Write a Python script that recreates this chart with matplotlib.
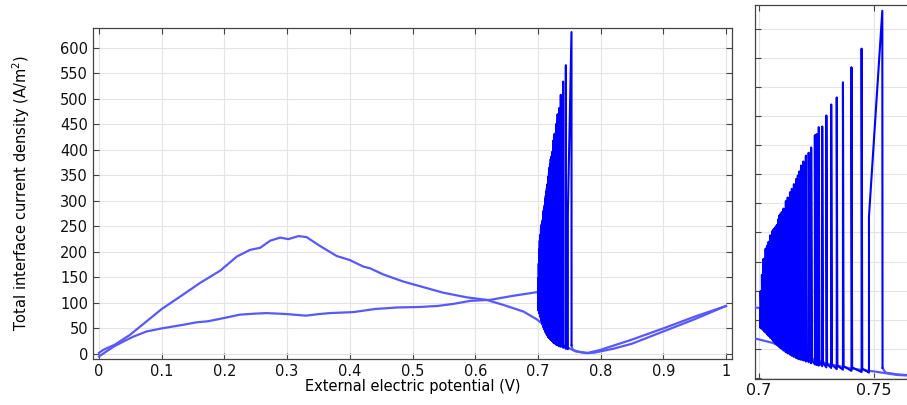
import matplotlib
matplotlib.use("Agg")
import matplotlib.pyplot as plt

# forward sweep, 0 V up to the onset of oscillations
fwd_v = [0.0, 0.012, 0.023, 0.04, 0.055, 0.076, 0.1, 0.134, 0.156, 0.174, 0.198, 0.225,
         0.25, 0.267, 0.285, 0.30, 0.33, 0.35, 0.368, 0.406, 0.44, 0.475, 0.512, 0.54,
         0.565, 0.592, 0.624, 0.661, 0.698, 0.7007]
fwd_i = [-5, 5, 14, 25, 34, 44, 50, 57, 62, 64, 70, 77,
         79, 80, 79, 78, 75, 78, 80, 82, 88, 91, 92, 94,
         98, 104, 106, 114, 121, 120]

# current oscillations: spike potential, peak and floor after the drop
spike_v = [0.7007, 0.7013, 0.7019, 0.7023, 0.7029, 0.7035, 0.7042, 0.7049, 0.7057,
           0.7063, 0.7068, 0.7073, 0.7078, 0.7083, 0.7088, 0.7094, 0.7099, 0.7107,
           0.7117, 0.7125, 0.7135, 0.7143, 0.7152, 0.7162, 0.7169, 0.7176, 0.7183,
           0.7193, 0.7204, 0.7216, 0.7227, 0.7243, 0.7251, 0.7260, 0.7275, 0.7293,
           0.7314, 0.7338, 0.7365, 0.7402, 0.7446]
spike_peak = [149, 177, 204, 205, 222, 227, 234, 245, 252,
              255, 257, 260, 263, 272, 279, 282, 285, 291,
              304, 310, 319, 325, 333, 342, 348, 355, 365,
              372, 382, 387, 396, 417, 419, 431, 432, 451,
              470, 482, 508, 534, 566]
spike_floor = [86, 84, 82, 80, 78, 75, 72, 69, 66,
               63, 61, 59, 57, 55, 53, 51, 50, 47,
               44, 42, 40, 38, 36, 34, 33, 32, 31,
               30, 28, 27, 25, 23, 22, 21, 20, 18,
               17, 15, 14, 12, 10]

# last, slanted spike before passivation
last_v = [0.7478, 0.7478, 0.7536, 0.7537]
last_i = [9, 277, 631, 17]

# passive region up to the vertex at 1 V
tail_v = [0.755, 0.76, 0.77, 0.778, 0.79, 0.8, 0.82, 0.85, 0.9, 0.95, 1.0]
tail_i = [9, 6, 3, 1.5, 2.5, 5, 10, 20, 44, 68, 94]

# reverse sweep, 1 V back to 0 V
rev_v = [1.0, 0.95, 0.9, 0.85, 0.82, 0.8, 0.78, 0.77, 0.765, 0.76, 0.75, 0.74, 0.73,
         0.72, 0.71, 0.706, 0.698, 0.677, 0.645, 0.618, 0.586, 0.549, 0.517, 0.485,
         0.453, 0.432, 0.422, 0.40, 0.379, 0.352, 0.331, 0.318, 0.302, 0.289, 0.273,
         0.257, 0.241, 0.22, 0.193, 0.161, 0.129, 0.1, 0.075, 0.049, 0.025, 0.007, 0.0]
rev_i = [94, 73, 50, 28, 16, 8, 2, 3, 4, 5, 11, 16, 24,
         37, 53, 60, 68, 83, 96, 106, 111, 120, 131, 142,
         156, 168, 171, 184, 192, 212, 229, 231, 225, 228, 222,
         208, 204, 191, 163, 139, 112, 88, 63, 37, 18, 8, 2]

# sawtooth path of the oscillations, each spike decays into the next one
osc_v, osc_i = [fwd_v[-1]], [fwd_i[-1]]
for v, p, f in zip(spike_v, spike_peak, spike_floor):
    osc_v += [v, v, v + 0.0003]
    osc_i += [f, p, f + 6]
osc_v += last_v
osc_i += last_i

light = '#5858ff'
dark = '#0000ff'
grid_c = '#e4e4e4'
spine_c = '#444444'


def draw(ax):
    ax.plot(fwd_v, fwd_i, color=light, lw=1.6, zorder=3)
    ax.plot(rev_v, rev_i, color=light, lw=1.6, zorder=3)
    ax.plot([last_v[-1]] + tail_v, [last_i[-1]] + tail_i, color=light, lw=1.6, zorder=3)
    ax.plot(osc_v, osc_i, color=dark, lw=1.5, zorder=4)
    ax.grid(True, color=grid_c, lw=0.8, zorder=0)
    ax.set_axisbelow(True)
    ax.tick_params(direction='in', top=True, right=True, length=4,
                   color=spine_c, labelsize=10.5, labelcolor='#111111')
    for s in ax.spines.values():
        s.set_color(spine_c)
        s.set_linewidth(0.9)


fig = plt.figure(figsize=(9.07, 4.05), dpi=100)

ax = fig.add_axes([93 / 907, 46 / 405, 639 / 907, 331 / 405])
draw(ax)
ax.set_xlim(-0.0096, 1.0096)
ax.set_ylim(-10, 639)
ax.set_xticks([0, 0.1, 0.2, 0.3, 0.4, 0.5, 0.6, 0.7, 0.8, 0.9, 1.0])
ax.set_xticklabels(['0', '0.1', '0.2', '0.3', '0.4', '0.5', '0.6', '0.7', '0.8', '0.9', '1'])
ax.set_yticks(range(0, 601, 50))
ax.set_xlabel('External electric potential (V)', fontsize=10.5, labelpad=0)
ax.set_ylabel('Total interface current density (A/m$^2$)', fontsize=10.5, labelpad=20)

# zoomed view of the oscillation window
axz = fig.add_axes([755 / 907, 26 / 405, 160 / 907, 374 / 405])
draw(axz)
axz.set_xlim(0.6983, 0.7678)
axz.set_ylim(-2, 641)
axz.set_xticks([0.7, 0.75])
axz.set_xticklabels(['0.7', '0.75'])
axz.set_yticks(range(0, 601, 50))
axz.tick_params(labelleft=False, labelsize=11.5, pad=3)

fig.savefig('out.png', dpi=100)
